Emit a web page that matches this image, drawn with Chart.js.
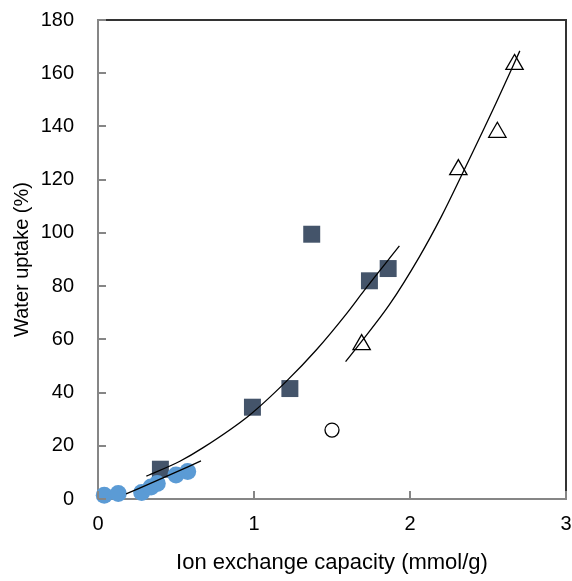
<!DOCTYPE html>
<html>
<head>
<meta charset="utf-8">
<script src="https://cdn.jsdelivr.net/npm/chart.js@4.4.1/dist/chart.umd.min.js"></script>
<style>
  html, body { margin: 0; padding: 0; background: #fff; }
  #wrap { width: 572px; height: 581px; }
</style>
</head>
<body>
<div id="wrap"><canvas id="myChart" width="572" height="581"></canvas></div>
<script>
// measured points (x = IEC mmol/g, y = water uptake %)
var circlesX = [0.04, 0.13, 0.28, 0.34, 0.38, 0.50, 0.575];
var circlesY = [1.4, 2.1, 2.4, 4.5, 5.8, 9.0, 10.3];

var squaresX = [0.40, 0.99, 1.23, 1.37, 1.74, 1.86];
var squaresY = [11.2, 34.5, 41.5, 99.5, 82.0, 86.6];

var trianglesX = [1.69, 2.31, 2.56, 2.67];
var trianglesY = [58.0, 123.8, 137.8, 163.3];

var openX = [1.50];
var openY = [25.9];

// trend lines
var trend1X = [0.18, 0.42, 0.66];
var trend1Y = [1.9, 8.0, 14.3];

var trend2X = [0.31, 0.525, 0.674, 0.973, 1.207, 1.399, 1.591, 1.708, 1.932];
var trend2Y = [8.6, 14.2, 19.3, 31.6, 44.2, 56.0, 69.5, 78.5, 95.1];

var trend3X = [1.587, 1.676, 1.868, 2.06, 2.20, 2.337, 2.551, 2.704];
var trend3Y = [51.6, 58.2, 73.0, 91.0, 106.0, 122.4, 148.7, 168.4];

var xTicks = [0, 1, 2, 3];
var yTicks = [0, 20, 40, 60, 80, 100, 120, 140, 160, 180];

function toPoints(xs, ys) {
  var pts = [];
  for (var i = 0; i < xs.length; i++) {
    pts.push({ x: xs[i], y: ys[i] });
  }
  return pts;
}

function lineSet(xs, ys) {
  return {
    data: toPoints(xs, ys),
    showLine: true,
    borderColor: "#000",
    borderWidth: 1.3,
    pointRadius: 0,
    cubicInterpolationMode: "monotone",
    clip: false
  };
}

// frame on top/right + inward tick marks
var framePlugin = {
  id: "frame",
  afterDraw: function(chart) {
    var ctx = chart.ctx;
    var a = chart.chartArea;
    var xs = chart.scales.x;
    var ys = chart.scales.y;
    ctx.save();
    ctx.strokeStyle = "#333";
    ctx.lineWidth = 2;
    ctx.beginPath();
    ctx.moveTo(a.left, a.top);
    ctx.lineTo(a.right, a.top);
    ctx.lineTo(a.right, a.bottom);
    ctx.stroke();

    ctx.strokeStyle = "#868686";
    ctx.lineWidth = 2;
    ctx.beginPath();
    yTicks.forEach(function(v) {
      var py = Math.round(ys.getPixelForValue(v));
      ctx.moveTo(a.left, py);
      ctx.lineTo(a.left + 8, py);
    });
    xTicks.forEach(function(v) {
      var px = Math.round(xs.getPixelForValue(v));
      ctx.moveTo(px, a.bottom);
      ctx.lineTo(px, a.bottom - 8);
    });
    ctx.stroke();
    ctx.restore();
  }
};

function printChart() {
  var ctx = document.getElementById("myChart").getContext("2d");
  var myChart = new Chart(ctx, {
    type: "scatter",
    data: {
      datasets: [
        lineSet(trend1X, trend1Y),
        lineSet(trend2X, trend2Y),
        lineSet(trend3X, trend3Y),
        {
          data: toPoints(circlesX, circlesY),
          pointStyle: "circle",
          pointRadius: 8.5,
          backgroundColor: "#5b9bd5",
          borderColor: "#5b9bd5",
          borderWidth: 0,
          clip: false
        },
        {
          data: toPoints(squaresX, squaresY),
          pointStyle: "rect",
          pointRadius: 12,
          backgroundColor: "#44546a",
          borderColor: "#44546a",
          borderWidth: 0,
          clip: false
        },
        {
          data: toPoints(trianglesX, trianglesY),
          pointStyle: "triangle",
          pointRadius: 10,
          backgroundColor: "rgba(255,255,255,0)",
          borderColor: "#000",
          borderWidth: 1.3,
          clip: false
        },
        {
          data: toPoints(openX, openY),
          pointStyle: "circle",
          pointRadius: 7,
          backgroundColor: "#fff",
          borderColor: "#000",
          borderWidth: 1.3,
          clip: false
        }
      ]
    },
    options: {
      responsive: false,
      animation: false,
      layout: { autoPadding: false, padding: { left: 0, right: 6, top: 20, bottom: 0 } },
      plugins: {
        legend: { display: false },
        tooltip: { enabled: false }
      },
      scales: {
        x: {
          type: "linear",
          min: 0,
          max: 3,
          afterFit: function(s) { s.height = 82; s.paddingLeft = 0; s.paddingRight = 0; },
          afterBuildTicks: function(s) { s.ticks = xTicks.map(function(v) { return { value: v }; }); },
          grid: { display: false, drawTicks: false },
          border: { display: true, color: "#868686", width: 2 },
          ticks: { color: "#000", padding: 13, font: { family: "Liberation Sans, Arial", size: 20 } },
          title: {
            display: true,
            text: "Ion exchange capacity (mmol/g)",
            color: "#000",
            padding: { top: 0, bottom: 5 },
            font: { family: "Liberation Sans, Arial", size: 22 }
          }
        },
        y: {
          type: "linear",
          min: 0,
          max: 180,
          afterFit: function(s) { s.width = 98; s.paddingTop = 0; s.paddingBottom = 0; },
          afterBuildTicks: function(s) { s.ticks = yTicks.map(function(v) { return { value: v }; }); },
          grid: { display: false, drawTicks: false },
          border: { display: true, color: "#868686", width: 2 },
          ticks: { color: "#000", padding: 24, font: { family: "Liberation Sans, Arial", size: 20 } },
          title: {
            display: true,
            text: "Water uptake (%)",
            color: "#000",
            padding: { top: 10, bottom: 0 },
            font: { family: "Liberation Sans, Arial", size: 20 }
          }
        }
      }
    },
    plugins: [framePlugin]
  });
}

function init() {
  printChart();
}
document.addEventListener("DOMContentLoaded", init);
</script>
</body>
</html>
